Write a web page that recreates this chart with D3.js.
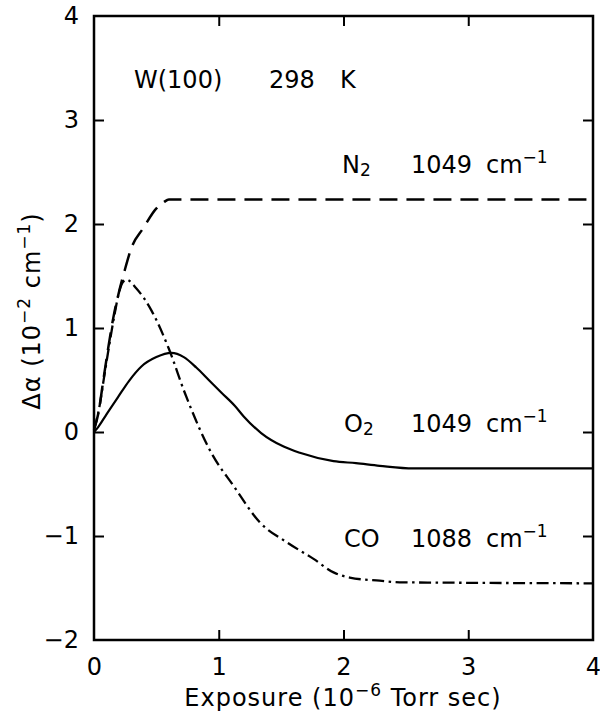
<!DOCTYPE html>
<html><head><meta charset="utf-8">
<script src="https://cdn.jsdelivr.net/npm/d3@7"></script>
<style>body{margin:0;background:#fff}text{font-family:"DejaVu Sans",sans-serif;fill:#000}</style>
</head><body><svg id="c" width="600" height="713"></svg>
<script>
// ---- data ----
const xTicks = [0, 1, 2, 3, 4];
const yTicks = [-2, -1, 0, 1, 2, 3, 4];
const n2X = [0, 0.035, 0.075, 0.115, 0.155, 0.195, 0.245, 0.30, 0.395, 0.50, 0.56, 0.60, 1.0, 2.0, 3.0, 4.0];
const n2Y = [0.02, 0.18, 0.50, 0.815, 1.10, 1.32, 1.55, 1.77, 1.96, 2.15, 2.21, 2.235, 2.235, 2.235, 2.235, 2.235];
const o2X = [0, 0.035, 0.10, 0.195, 0.28, 0.38, 0.50, 0.62, 0.72, 0.82, 0.92, 1.02, 1.13, 1.20, 1.34, 1.52, 1.65, 1.92, 2.1, 2.29, 2.56, 3.0, 4.0];
const o2Y = [0.0, 0.05, 0.17, 0.34, 0.49, 0.63, 0.72, 0.76, 0.72, 0.62, 0.50, 0.38, 0.25, 0.15, -0.01, -0.14, -0.20, -0.28, -0.30, -0.325, -0.35, -0.35, -0.35];
const coX = [0, 0.04, 0.08, 0.12, 0.16, 0.20, 0.23, 0.26, 0.34, 0.46, 0.60, 0.73, 0.94, 1.12, 1.33, 1.545, 1.76, 1.92, 2.05, 2.29, 2.45, 3.0, 4.0];
const coY = [0.02, 0.22, 0.52, 0.82, 1.10, 1.34, 1.44, 1.465, 1.38, 1.17, 0.80, 0.37, -0.20, -0.52, -0.87, -1.06, -1.22, -1.35, -1.40, -1.43, -1.445, -1.45, -1.455];

const svg = d3.select("#c");
const x = d3.scaleLinear().domain([0, 4]).range([94, 593]);
const y = d3.scaleLinear().domain([-2, 4]).range([640, 16]);
const fmt = d => (d < 0 ? "\u2212" + Math.abs(d) : "" + d);

// frame
svg.append("rect").attr("x", x(0)).attr("y", y(4)).attr("width", x(4) - x(0)).attr("height", y(-2) - y(4))
  .attr("fill", "none").attr("stroke", "#000").attr("stroke-width", 2.5);

// axes (inward ticks)
const tl = 10;
const gB = svg.append("g").attr("transform", `translate(0,${y(-2)})`)
  .call(d3.axisBottom(x).tickValues(xTicks).tickSizeInner(-tl).tickSizeOuter(0).tickPadding(tl + 8).tickFormat(fmt));
const gT = svg.append("g").attr("transform", `translate(0,${y(4)})`)
  .call(d3.axisTop(x).tickValues(xTicks.slice(1, -1)).tickSizeInner(-tl).tickSizeOuter(0).tickFormat(""));
const gL = svg.append("g").attr("transform", `translate(${x(0)},0)`)
  .call(d3.axisLeft(y).tickValues(yTicks).tickSizeInner(-tl).tickSizeOuter(0).tickPadding(tl + 5).tickFormat(fmt));
const gR = svg.append("g").attr("transform", `translate(${x(4)},0)`)
  .call(d3.axisRight(y).tickValues(yTicks.slice(1, -1)).tickSizeInner(-tl).tickSizeOuter(0).tickFormat(""));
[gB, gT, gL, gR].forEach(g => {
  g.select(".domain").remove();
  g.selectAll(".tick line").attr("stroke", "#000").attr("stroke-width", 2);
  g.selectAll("text").attr("font-size", 24).attr("font-family", "DejaVu Sans").attr("fill", "#000");
});
gB.selectAll(".tick line").filter(d => d === 0 || d === 4).remove();
gL.selectAll(".tick line").filter(d => d === -2 || d === 4).remove();

// lines
const line = d3.line().x(d => x(d[0])).y(d => y(d[1])).curve(d3.curveMonotoneX);
const zip = (a, b) => a.map((v, i) => [v, b[i]]);
svg.append("path").attr("d", line(zip(n2X, n2Y))).attr("fill", "none").attr("stroke", "#000")
  .attr("stroke-width", 2.5).attr("stroke-dasharray", "18,9");
svg.append("path").attr("d", line(zip(o2X, o2Y))).attr("fill", "none").attr("stroke", "#000")
  .attr("stroke-width", 2.2);
svg.append("path").attr("d", line(zip(coX, coY))).attr("fill", "none").attr("stroke", "#000")
  .attr("stroke-width", 2.3).attr("stroke-dasharray", "12,4.5,2.5,4.5");

// labels
function label(parts, bx, by) {
  const t = svg.append("text").attr("x", bx).attr("y", by).attr("font-size", 24);
  parts.forEach(p => {
    const s = t.append("tspan").text(p.t);
    if (p.x !== undefined) s.attr("x", p.x).attr("y", by);
    if (p.sup) s.attr("font-size", 17).attr("y", by - 10);
    if (p.sub) s.attr("font-size", 17).attr("y", by + 3);
  });
  return t;
}
label([{t: "W(100)", x: 134}, {t: "298", x: 269}, {t: "K", x: 340}], 134, 88);
label([{t: "N", x: 342}, {t: "2", sub: true}, {t: "1049", x: 411}, {t: "cm", x: 486}, {t: "\u22121", sup: true}], 342, 173);
label([{t: "O", x: 344}, {t: "2", sub: true}, {t: "1049", x: 411}, {t: "cm", x: 486}, {t: "\u22121", sup: true}], 344, 432);
label([{t: "CO", x: 344}, {t: "1088", x: 411}, {t: "cm", x: 486}, {t: "\u22121", sup: true}], 344, 547);

// axis titles
const xt = svg.append("text").attr("x", 343).attr("y", 706).attr("text-anchor", "middle").attr("font-size", 24).attr("letter-spacing", 1);
xt.append("tspan").text("Exposure (10");
xt.append("tspan").text("\u22126").attr("font-size", 17).attr("dy", -10);
xt.append("tspan").text(" Torr sec)").attr("dy", 10);

const yt = svg.append("text").attr("transform", "translate(40,311) rotate(-90)").attr("text-anchor", "middle").attr("font-size", 24).attr("letter-spacing", 1);
yt.append("tspan").text("\u0394\u03b1 (10");
yt.append("tspan").text("\u22122").attr("font-size", 17).attr("dy", -10);
yt.append("tspan").text(" cm").attr("dy", 10);
yt.append("tspan").text("\u22121").attr("font-size", 17).attr("dy", -10);
yt.append("tspan").text(")").attr("dy", 10);
</script></body></html>
